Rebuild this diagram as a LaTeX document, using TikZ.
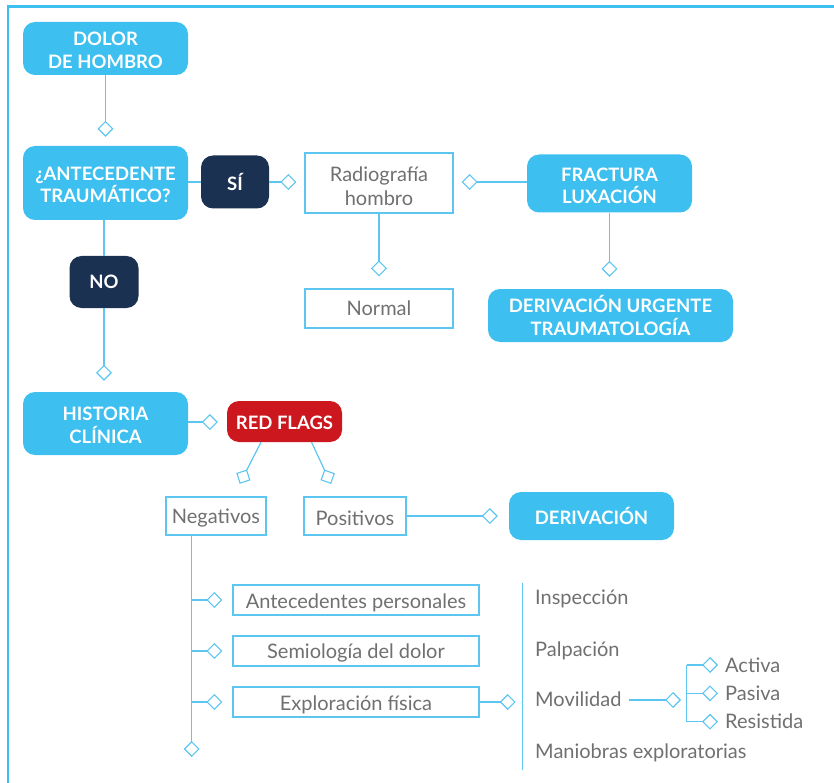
\documentclass[tikz,border=0pt]{standalone}
\usepackage{fontspec}
\setmainfont{Lato}
\usetikzlibrary{arrows.meta,calc}
\definecolor{cy}{HTML}{3DBFF0}
\definecolor{cyl}{HTML}{5CC6F0}
\definecolor{navy}{HTML}{1B3152}
\definecolor{rflag}{HTML}{CC171E}
\definecolor{txt}{HTML}{707070}
\newcommand\lift[1]{\rule{0pt}{#1}}
\begin{document}
\begin{tikzpicture}[x=1pt,y=-1pt,
  solidbox/.style={rounded corners=12pt, fill=cy, text=white, font=\bfseries\fontsize{18.5}{22.5}\selectfont, align=center, inner sep=0pt},
  darkbox/.style={solidbox, fill=navy},
  redbox/.style={solidbox, fill=rflag},
  outbox/.style={draw=cyl, line width=1.3pt, fill=white, text=txt, font=\fontsize{20}{24}\selectfont, align=center, inner sep=0pt},
  plaintext/.style={text=txt, font=\fontsize{20}{24}\selectfont, inner sep=0pt, anchor=west},
  link/.style={draw=cyl, line width=1.2pt},
  conn/.style={link, -{Diamond[open, length=16pt, width=16pt, line width=1.1pt]}},
]
\useasboundingbox (0,0) rectangle (834,783);
% frame
\draw[cy, line width=2.6pt] (7.8,783) -- (7.8,6.3) -- (834,6.3);

% nodes
\node[solidbox, minimum width=165pt, minimum height=53pt] (dolor) at (105.5,48.5) {\lift{17pt}DOLOR\\DE HOMBRO};
\node[solidbox, minimum width=165pt, minimum height=74pt] (ante) at (105.5,183) {\lift{17pt}¿ANTECEDENTE\\TRAUMÁTICO?};
\node[darkbox, minimum width=68pt, minimum height=53pt] (si) at (235,182) {SÍ};
\node[darkbox, minimum width=69pt, minimum height=52pt] (no) at (104,282) {NO};
\node[outbox, minimum width=148pt, minimum height=60pt] (radio) at (379,183) {\lift{21pt}Radiografía\\hombro};
\node[solidbox, minimum width=165pt, minimum height=58pt] (fract) at (609.5,183.5) {\lift{18pt}FRACTURA\\LUXACIÓN};
\node[solidbox, minimum width=245pt, minimum height=53pt] (urg) at (610.5,315.5) {DERIVACIÓN URGENTE\\TRAUMATOLOGÍA};
\node[outbox, minimum width=148pt, minimum height=39pt] (normal) at (379,308.5) {Normal};
\node[solidbox, minimum width=165pt, minimum height=63pt] (hist) at (105.5,423.5) {\lift{17pt}HISTORIA\\CLÍNICA};
\node[redbox, minimum width=115pt, minimum height=41pt] (rf) at (284.5,421.5) {\lift{15.5pt}RED FLAGS};
\node[outbox, minimum width=100pt, minimum height=38pt] (neg) at (216,516) {\lift{19pt}Negativos};
\node[outbox, minimum width=102pt, minimum height=38pt] (pos) at (355,516) {\lift{19pt}Positivos};
\node[solidbox, minimum width=165pt, minimum height=48pt] (deriv) at (591.5,516) {DERIVACIÓN};
\node[outbox, minimum width=246pt, minimum height=30pt] (antp) at (356,600) {\lift{19.5pt}Antecedentes personales};
\node[outbox, minimum width=246pt, minimum height=30pt] (semio) at (356,651) {\lift{19.5pt}Semiología del dolor};
\node[outbox, minimum width=246pt, minimum height=30pt] (explo) at (356,702) {\lift{19.5pt}Exploración física};

\node[plaintext] (insp) at (535,598.5) {Inspección};
\node[plaintext] (palp) at (535,651) {Palpación};
\node[plaintext] (movil) at (535,699) {Movilidad};
\node[plaintext] (manio) at (535,753) {Maniobras exploratorias};
\node[plaintext] (activa) at (725,665) {Activa};
\node[plaintext] (pasiva) at (725,693.3) {Pasiva};
\node[plaintext] (resist) at (725,721.7) {Resistida};

% coordinates
\coordinate (ngtip) at (239.7,483.8);
\coordinate (pstip) at (331.1,484);
\coordinate (nv) at (191.7,535);
\coordinate (nb) at (191.7,757);
\coordinate (brt) at (522.7,583);
\coordinate (brb) at (522.7,770);
\coordinate (mtip) at (681,700);
\coordinate (b2t) at (686.7,665);
\coordinate (b2b) at (686.7,721.7);

% connectors
\draw[conn, shorten >=9pt] (dolor) -- (ante);
\draw[link] (ante.east |- si.west) -- (si.west);
\draw[conn, shorten >=8pt] (si.east) -- (si.east -| radio.west);
\draw[conn, shorten >=8pt] (fract.west |- si) -- (si -| radio.east);
\draw[conn, shorten >=12pt] (radio) -- (normal);
\draw[conn, shorten >=12pt] (fract) -- (fract |- urg.north);
\draw[link] (ante.south -| no) -- (no.north);
\draw[conn, shorten >=11pt] (no) -- (no |- hist.north);
\draw[conn, shorten >=9pt] (hist.east |- 0,422) -- (rf.west |- 0,422);
\draw[conn] ([xshift=-23.5pt]rf.south) -- (ngtip);
\draw[conn] ([xshift=27pt]rf.south) -- (pstip);
\draw[conn, shorten >=11pt] (pos.east) -- (deriv.west);
\draw[conn] (nv) -- (nb);
\draw[conn, shorten >=10pt] (nv |- antp) -- (antp.west);
\draw[conn, shorten >=10pt] (nv |- semio) -- (semio.west);
\draw[conn, shorten >=10pt] (nv |- explo) -- (explo.west);
\draw[conn, shorten >=7pt] (explo.east) -- (explo.east -| brt);
\draw[link] (brt) -- (brb);
\draw[conn, shorten <=7pt] (movil.east |- mtip) -- (mtip);
\draw[link] (b2t) -- (b2b);
\draw[conn, shorten >=7pt] (b2t) -- (activa.west);
\draw[conn, shorten >=7pt] (b2t |- pasiva) -- (pasiva.west);
\draw[conn, shorten >=7pt] (b2b) -- (resist.west);
\end{tikzpicture}
\end{document}
